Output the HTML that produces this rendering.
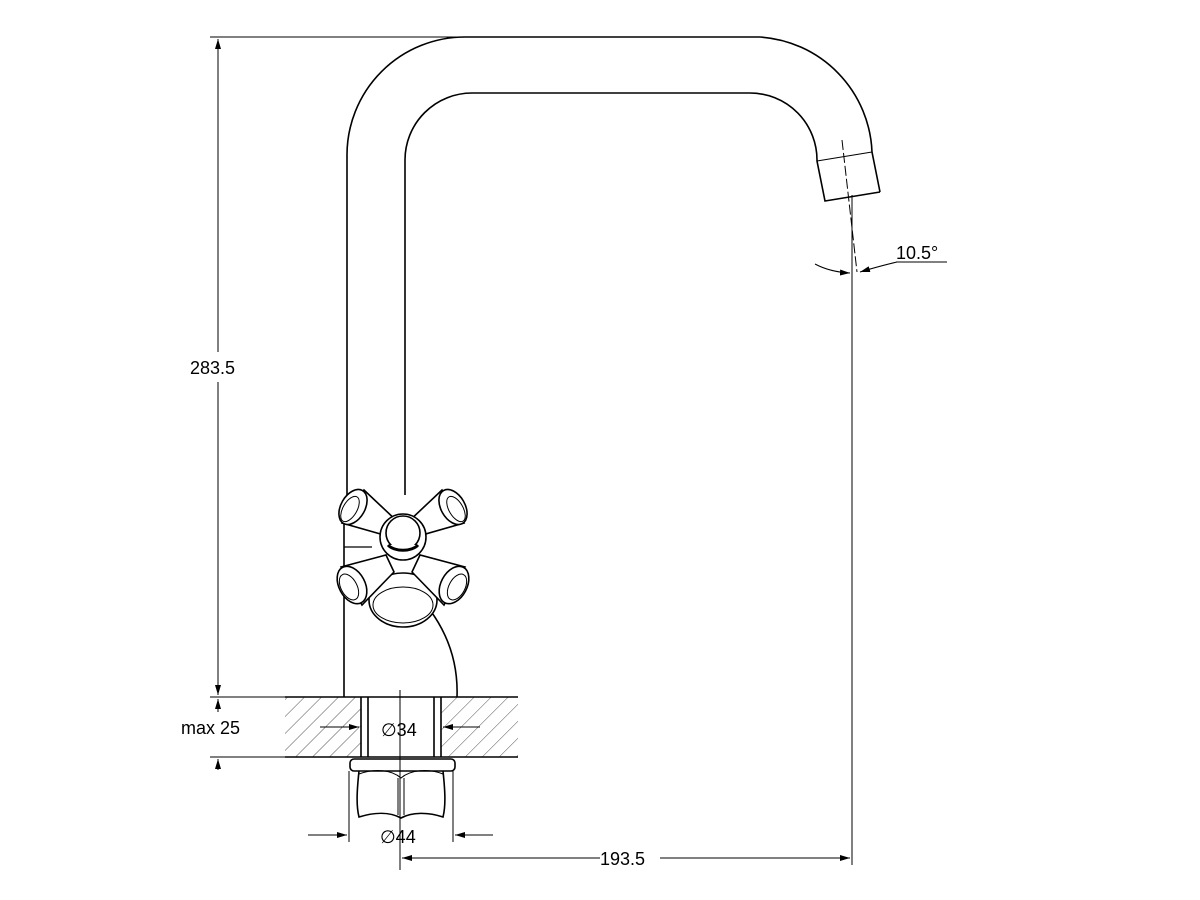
<!DOCTYPE html>
<html><head><meta charset="utf-8"><style>body{margin:0;background:#fff}svg{display:block}text{font-family:"Liberation Sans",sans-serif;font-size:18px;fill:#000}</style></head>
<body>
<svg width="1200" height="900" viewBox="0 0 1200 900" xmlns="http://www.w3.org/2000/svg">
<defs>
<pattern id="h" width="12" height="12" patternUnits="userSpaceOnUse" patternTransform="rotate(45)"><line x1="0" y1="0" x2="0" y2="12" stroke="#555" stroke-width="1"/></pattern>
<marker id="a" viewBox="0 0 10 6" refX="10" refY="3" markerWidth="10" markerHeight="6" orient="auto-start-reverse" markerUnits="userSpaceOnUse"><path d="M0,0L10,3L0,6z" fill="#000"/></marker>
</defs>
<g fill="none" stroke="#000" stroke-width="1.6">
<path d="M347,500 V155 A118,118 0 0 1 465,37 H760 A120,120 0 0 1 872,152 L880,192"/>
<path d="M405,495 V160 A67,67 0 0 1 472,93 H750 A67,67 0 0 1 817,161 L825,201 L880,192"/>
<path d="M817,161 L872,152" stroke-width="1"/>
<path d="M344,520 V697"/>
<path d="M430,610 C452,640 458,670 457,697"/>
<path d="M344,547 H372" stroke-width="1.2"/>
<rect x="285" y="697" width="76" height="60" fill="url(#h)" stroke="none"/>
<rect x="441" y="697" width="77" height="60" fill="url(#h)" stroke="none"/>
<path d="M285,697 H518 M285,757 H518"/>
<path d="M361,697 V757 M368,697 V757 M434,697 V757 M441,697 V757"/>
<rect x="350" y="759" width="105" height="12" rx="4" fill="#fff"/>
<path d="M359,771 C357,790 356,805 359,817 C375,812 390,812 401,818 C412,812 428,812 443,817 C446,805 445,790 443,771"/>
<path d="M359,774 C375,768 392,770 401,778 C410,770 428,768 443,774" stroke-width="1"/>
<path d="M398,778 V815 M404,778 V815" stroke-width="1"/>
<g fill="#fff">
<path d="M399,523 L364,490 L342,523 L391,537 Z"/>
<ellipse cx="353" cy="507" rx="19" ry="12" transform="rotate(-60 353 507)"/>
<ellipse cx="350" cy="509" rx="14" ry="7" transform="rotate(-60 350 509)" stroke-width="1"/>
<path d="M407,523 L442,490 L464,523 L415,537 Z"/>
<ellipse cx="453" cy="507" rx="19" ry="12" transform="rotate(60 453 507)"/>
<ellipse cx="456" cy="509" rx="14" ry="7" transform="rotate(60 456 509)" stroke-width="1"/>
<ellipse cx="403" cy="600" rx="34" ry="27"/>
<ellipse cx="403" cy="605" rx="30" ry="18" stroke-width="1"/>
<path d="M394,572 L362,605 L341,567 L386,555 Z"/>
<ellipse cx="352" cy="585" rx="20" ry="13" transform="rotate(62 352 585)"/>
<ellipse cx="349" cy="587" rx="14" ry="8" transform="rotate(62 349 587)" stroke-width="1"/>
<path d="M412,572 L444,605 L465,567 L420,555 Z"/>
<ellipse cx="454" cy="585" rx="20" ry="13" transform="rotate(-62 454 585)"/>
<ellipse cx="457" cy="587" rx="14" ry="8" transform="rotate(-62 457 587)" stroke-width="1"/>
<circle cx="403" cy="537" r="23"/>
<circle cx="403" cy="533" r="17"/>
<path d="M388,545 A17,10 0 0 0 418,545" stroke-width="3"/>
</g>
<path d="M400,690 V870" stroke-width="1"/>
</g>
<g stroke="#000" stroke-width="1" fill="none">
<path d="M210,37 H470 M210,697 H285 M210,757 H285"/>
<path d="M218,352 V39" marker-end="url(#a)"/>
<path d="M218,382 V695" marker-end="url(#a)"/>
<path d="M218,712 V699" marker-end="url(#a)"/>
<path d="M218,770 V759" marker-end="url(#a)"/>
<path d="M320,727 H359" marker-end="url(#a)"/>
<path d="M480,727 H443" marker-end="url(#a)"/>
<path d="M349,771 V842 M453,771 V842"/>
<path d="M308,835 H347" marker-end="url(#a)"/>
<path d="M493,835 H455" marker-end="url(#a)"/>
<path d="M852,195 V865"/>
<path d="M600,858 H402" marker-end="url(#a)"/>
<path d="M660,858 H850" marker-end="url(#a)"/>
<path d="M842,140 L857,272" stroke-dasharray="10,3"/>
<path d="M815,264 Q830,272 850,273" marker-end="url(#a)"/>
<path d="M897,262 Q880,266 860,272" marker-end="url(#a)"/>
<path d="M896,262 H947"/>
</g>
<text x="190" y="374">283.5</text>
<text x="181" y="734">max 25</text>
<text x="381" y="736">∅34</text>
<text x="380" y="843">∅44</text>
<text x="600" y="865">193.5</text>
<text x="896" y="259">10.5°</text>
</svg>
</body></html>
